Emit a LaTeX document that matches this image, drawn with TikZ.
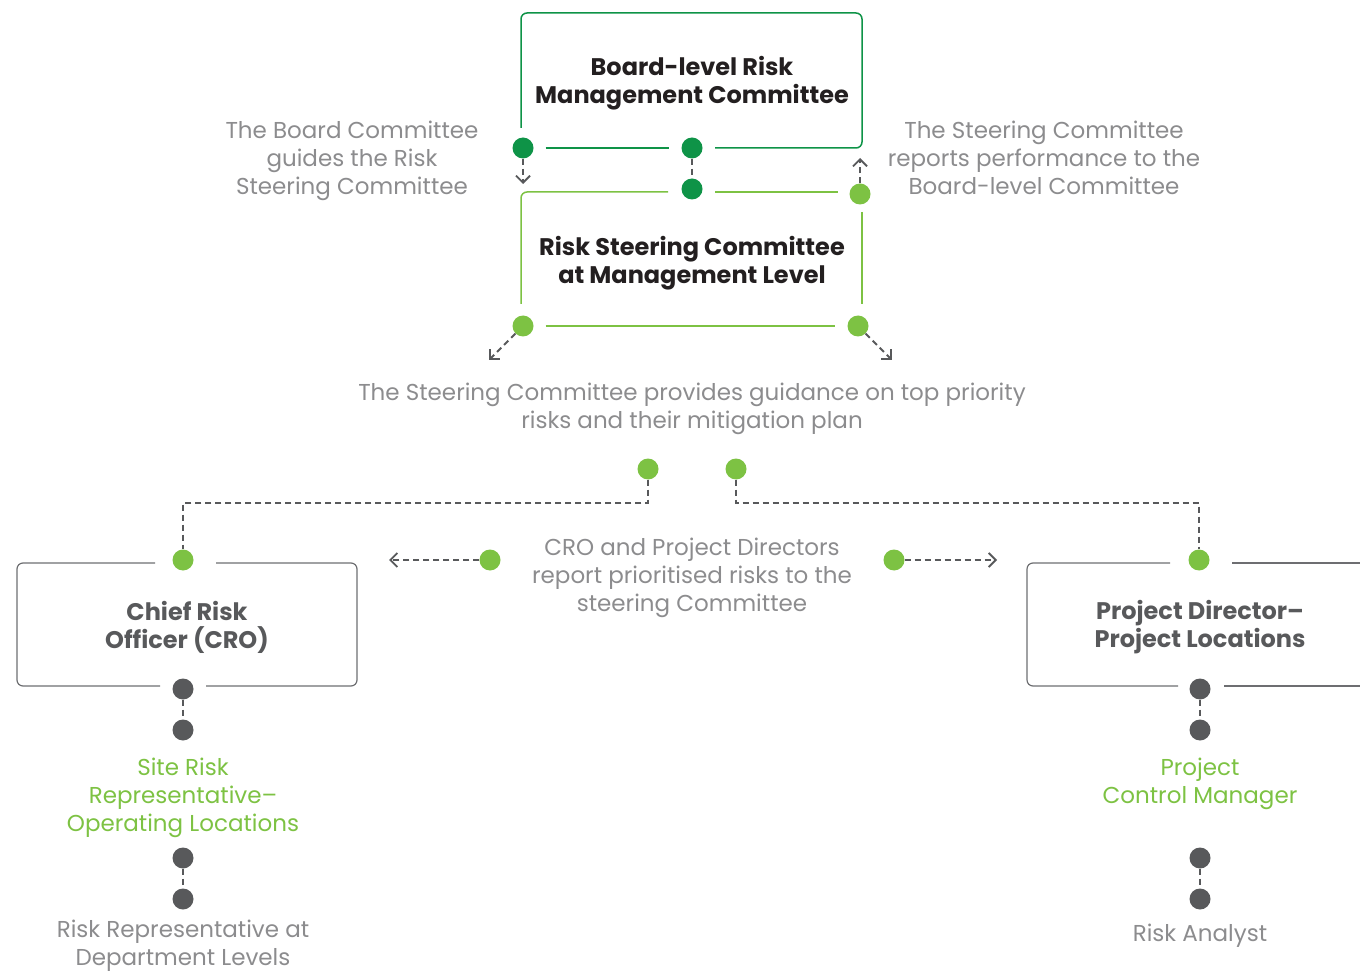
\documentclass[tikz,border=0pt]{standalone}
\usepackage{fontspec}
\setmainfont{Poppins}
\usetikzlibrary{arrows.meta}
\definecolor{dgreen}{HTML}{0E9347}
\definecolor{lgreen}{HTML}{7DC243}
\definecolor{dgray}{HTML}{58595B}
\definecolor{tgray}{HTML}{8C8C8E}
\definecolor{lgray}{HTML}{6D6E71}
\definecolor{ink}{HTML}{231F20}
\begin{document}
\begin{tikzpicture}[x=1pt,y=-1pt,
 dot/.style={circle,inner sep=0pt,minimum size=21pt,fill=#1},
 dashconn/.style={draw=dgray,line width=1.8pt,dash pattern=on 6pt off 4pt},
 darrow/.style={dashconn,-{Straight Barb[length=7pt,width=14pt,line width=1.8pt]}},
 note/.style={text=tgray,align=center,font=\fontsize{23}{28}\selectfont},
 gnote/.style={text=lgreen,align=center,font=\fontsize{23}{28}\selectfont},
 title/.style={text=ink,align=center,font=\bfseries\fontsize{24}{28}\selectfont},
 gtitle/.style={text=dgray,align=center,font=\bfseries\fontsize{24}{28}\selectfont},
 dgline/.style={draw=dgreen,line width=1.5pt,rounded corners=6pt},
 lgline/.style={draw=lgreen,line width=1.5pt,rounded corners=6pt},
 gline/.style={draw=lgray,line width=1.2pt,rounded corners=6pt},
 gap/.style={shorten <=12pt,shorten >=12pt}
]
\useasboundingbox (0,0) rectangle (1360,973);

% ---------- Board-level box ----------
\node[title] (board) at (692,83) {Board-level Risk\\Management Committee};
\node[dot=dgreen] (b1) at (523,148) {};
\node[dot=dgreen] (b2) at (692,148) {};
\node[dot=dgreen] (b3) at (692,189) {};
\draw[dgline] (521,128) -- (521,13) -- (862,13) -- (862,148) -- (715,148);
\draw[dgline,gap] (b1) -- (b2);
\draw[dashconn] (b2) -- (b3);

% ---------- Steering box ----------
\node[title] (steer) at (692,263) {Risk Steering Committee\\at Management Level};
\node[dot=lgreen] (s2) at (860,194) {};
\node[dot=lgreen] (s3) at (523,326) {};
\node[dot=lgreen] (s4) at (858,326) {};
\draw[lgline] (521,304) -- (521,192) -- (668,192);
\draw[lgline] (715,192) -- (838,192);
\draw[lgline] (862,212) -- (862,304);
\draw[lgline,gap] (s3) -- (s4);

% arrows near top
\coordinate (adown) at (523,184);
\coordinate (aup) at (860,158);
\draw[darrow] (b1) -- (adown);
\draw[darrow] (s2) -- (aup);
\coordinate (adl) at (489,360);
\coordinate (adr) at (892,360);
\draw[darrow] (s3) -- (adl);
\draw[darrow] (s4) -- (adr);

% notes
\node[note] (n1) at (352,161) {The Board Committee\\guides the Risk\\Steering Committee};
\node[note] (n2) at (1044,158) {The Steering Committee\\reports performance to the\\Board-level Committee};
\node[note] (n3) at (692,409) {The Steering Committee provides guidance on top priority\\risks and their mitigation plan};

% ---------- middle ----------
\node[dot=lgreen] (m1) at (648,469) {};
\node[dot=lgreen] (m2) at (736,469) {};
\node[dot=lgreen] (c1) at (183,560) {};
\node[dot=lgreen] (p1) at (1199,560) {};
\coordinate (j1) at (648,503);
\coordinate (j2) at (736,503);
\draw[dashconn] (m1) -- (j1) -| (c1);
\draw[dashconn] (m2) -- (j2) -| (p1);

\node[note] (n4) at (692,578) {CRO and Project Directors\\report prioritised risks to the\\steering Committee};
\node[dot=lgreen] (r1) at (490,560) {};
\node[dot=lgreen] (r2) at (894,560) {};
\coordinate (al) at (389,560);
\coordinate (ar) at (997,560);
\draw[darrow] (r1) -- (al);
\draw[darrow] (r2) -- (ar);

% ---------- CRO box ----------
\node[gtitle] (cro) at (187,627) {Chief Risk\\Officer (CRO)};
\node[dot=dgray] (c2) at (183,689) {};
\draw[gline] (155,563) -- (17,563) -- (17,686) -- (160,686);
\draw[gline] (206,686) -- (357,686) -- (357,563) -- (216,563);

% ---------- Project Director box ----------
\node[gtitle] (pd) at (1200,627) {Project Director–\\Project Locations};
\node[dot=dgray] (p2) at (1200,689) {};
\draw[gline] (1170,563) -- (1027,563) -- (1027,686) -- (1178,686);
\draw[gline] (1232,563) -- (1362,563);
\draw[gline] (1224,686) -- (1362,686);

% ---------- left chain ----------
\node[dot=dgray] (c3) at (183,730) {};
\node[gnote] (site) at (183,798) {Site Risk\\Representative–\\Operating Locations};
\node[dot=dgray] (c4) at (183,858) {};
\node[dot=dgray] (c5) at (183,899) {};
\node[note,inner sep=0pt] (dept) at (183,946) {Risk Representative at\\Department Levels};
\draw[dashconn] (c2) -- (c3);
\draw[dashconn] (c4) -- (c5);

% ---------- right chain ----------
\node[dot=dgray] (p3) at (1200,730) {};
\node[gnote] (pcm) at (1200,784) {Project\\Control Manager};
\node[dot=dgray] (p4) at (1200,858) {};
\node[dot=dgray] (p5) at (1200,899) {};
\node[note] (ra) at (1200,936) {Risk Analyst};
\draw[dashconn] (p2) -- (p3);
\draw[dashconn] (p4) -- (p5);
\end{tikzpicture}
\end{document}
